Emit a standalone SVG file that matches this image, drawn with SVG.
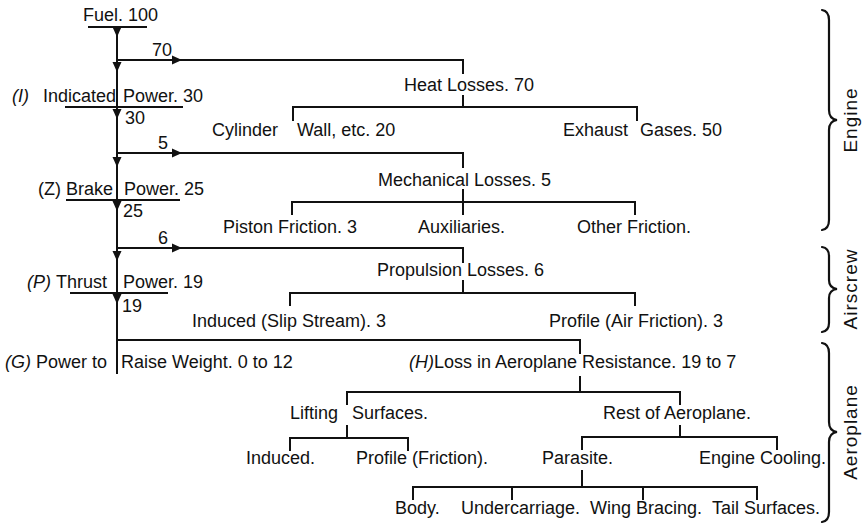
<svg xmlns="http://www.w3.org/2000/svg" xmlns:xlink="http://www.w3.org/1999/xlink" width="866" height="527" viewBox="0 0 866 527">
<style>
text{font-family:"Liberation Sans",Arial,sans-serif;font-size:18px;fill:#111}
.i{font-style:italic}
.lbl{font-size:19px;text-anchor:middle;letter-spacing:1px}
.ln{fill:none;stroke:#111;stroke-width:2}
.br{fill:none;stroke:#111;stroke-width:2.2;stroke-linecap:round}
.ah{fill:#111}
</style>
<defs>
<path id="ad" class="ah" d="M0,0 L-4.5,-10 L4.5,-10 Z"/>
<path id="ar" class="ah" d="M0,0 L-10,-4.5 L-10,4.5 Z"/>
</defs>
<rect width="866" height="527" fill="#fff"/>
<g id="connectors" class="ln">
<path d="M117,27 V374"/>
<path d="M117,60 H463 V74"/>
<path d="M463,95 V107 M293,121 V107 H637 V121"/>
<path d="M117,153 H463 V168"/>
<path d="M463,189 V215 M292,215 V202 H635 V215"/>
<path d="M117,248 H463 V263"/>
<path d="M463,280 V293 M290,306 V293 H635 V306"/>
<path d="M117,340 H580 V354"/>
<path d="M580,376 V392 M347,405 V392 H680 V405"/>
<path d="M347,425 V438 M290,451 V438 H408 V451"/>
<path d="M680,425 V437 M582,450 V437 H777 V450"/>
<path d="M582,470 V487 M413,500 V487 H757 V500 M512,487 V500 M643,487 V500"/>
<path d="M88,27 H147 M65,107 H183 M66,200 H180 M70,293 H168"/>
</g>
<g id="arrowheads">
<use xlink:href="#ad" x="117" y="37"/>
<use xlink:href="#ad" x="117" y="72"/>
<use xlink:href="#ad" x="117" y="119"/>
<use xlink:href="#ad" x="117" y="167"/>
<use xlink:href="#ad" x="117" y="211"/>
<use xlink:href="#ad" x="117" y="261"/>
<use xlink:href="#ad" x="117" y="304"/>
<use xlink:href="#ar" x="182" y="60"/>
<use xlink:href="#ar" x="182" y="153"/>
<use xlink:href="#ar" x="182" y="248"/>
</g>
<g id="fuel"><text x="83" y="21">Fuel. 100</text></g>
<g id="n70"><text x="152" y="56">70</text></g>
<g id="indicated"><text x="12" y="102"><tspan class="i">(I) </tspan><tspan x="43">Indicated </tspan><tspan x="123">Power. 30</tspan></text></g>
<g id="n30"><text x="125" y="124">30</text></g>
<g id="heat"><text x="404" y="91">Heat Losses. 70</text></g>
<g id="cylinder"><text x="212" y="136">Cylinder <tspan x="297">Wall, etc. 20</tspan></text></g>
<g id="exhaust"><text x="563" y="136">Exhaust <tspan x="640">Gases. 50</tspan></text></g>
<g id="n5"><text x="158" y="149">5</text></g>
<g id="brake"><text x="38" y="195">(Z) Brake <tspan x="124">Power. 25</tspan></text></g>
<g id="n25"><text x="123" y="217">25</text></g>
<g id="mechanical"><text x="378" y="186">Mechanical Losses. 5</text></g>
<g id="piston"><text x="223" y="233">Piston Friction. 3</text></g>
<g id="auxiliaries"><text x="418" y="233">Auxiliaries.</text></g>
<g id="other"><text x="577" y="233">Other Friction.</text></g>
<g id="n6"><text x="158" y="244">6</text></g>
<g id="thrust"><text x="27" y="288"><tspan class="i">(P) </tspan>Thrust <tspan x="123">Power. 19</tspan></text></g>
<g id="n19"><text x="122" y="312">19</text></g>
<g id="propulsion"><text x="377" y="276">Propulsion Losses. 6</text></g>
<g id="slip"><text x="192" y="327">Induced (Slip Stream). 3</text></g>
<g id="airfriction"><text x="549" y="327">Profile (Air Friction). 3</text></g>
<g id="raise"><text x="5" y="368"><tspan class="i">(G) </tspan>Power to <tspan x="121">Raise Weight. 0 to 12</tspan></text></g>
<g id="resistance"><text x="409" y="368"><tspan class="i">(H)</tspan>Loss in Aeroplane Resistance. 19 to 7</text></g>
<g id="lifting"><text x="290" y="419">Lifting <tspan x="352">Surfaces.</tspan></text></g>
<g id="rest"><text x="603" y="419">Rest of Aeroplane.</text></g>
<g id="induced"><text x="246" y="464">Induced.</text></g>
<g id="profile"><text x="356" y="464">Profile <tspan x="412">(Friction).</tspan></text></g>
<g id="parasite"><text x="542" y="464">Parasite.</text></g>
<g id="cooling"><text x="699" y="464">Engine Cooling.</text></g>
<g id="body"><text x="395" y="514">Body.</text></g>
<g id="undercarriage"><text x="461" y="514">Undercarriage.</text></g>
<g id="wing"><text x="590" y="514">Wing Bracing.</text></g>
<g id="tail"><text x="712" y="514">Tail Surfaces.</text></g>
<g id="engine">
<path class="br" d="M822,10 Q829,11 829,20 L829,110 Q829,119 837,120 Q829,121 829,130 L829,220 Q829,229 822,230"/>
<text class="lbl" transform="translate(857,120) rotate(-90)">Engine</text>
</g>
<g id="airscrew">
<path class="br" d="M822,247 Q829,248 829,256 L829,280 Q829,288 837,289 Q829,290 829,298 L829,323 Q829,331 822,332"/>
<text class="lbl" transform="translate(857,289) rotate(-90)">Airscrew</text>
</g>
<g id="aeroplane">
<path class="br" d="M822,343 Q829,344 829,353 L829,422 Q829,431 837,432 Q829,433 829,442 L829,512 Q829,521 822,522"/>
<text class="lbl" transform="translate(857,432) rotate(-90)">Aeroplane</text>
</g>
</svg>
